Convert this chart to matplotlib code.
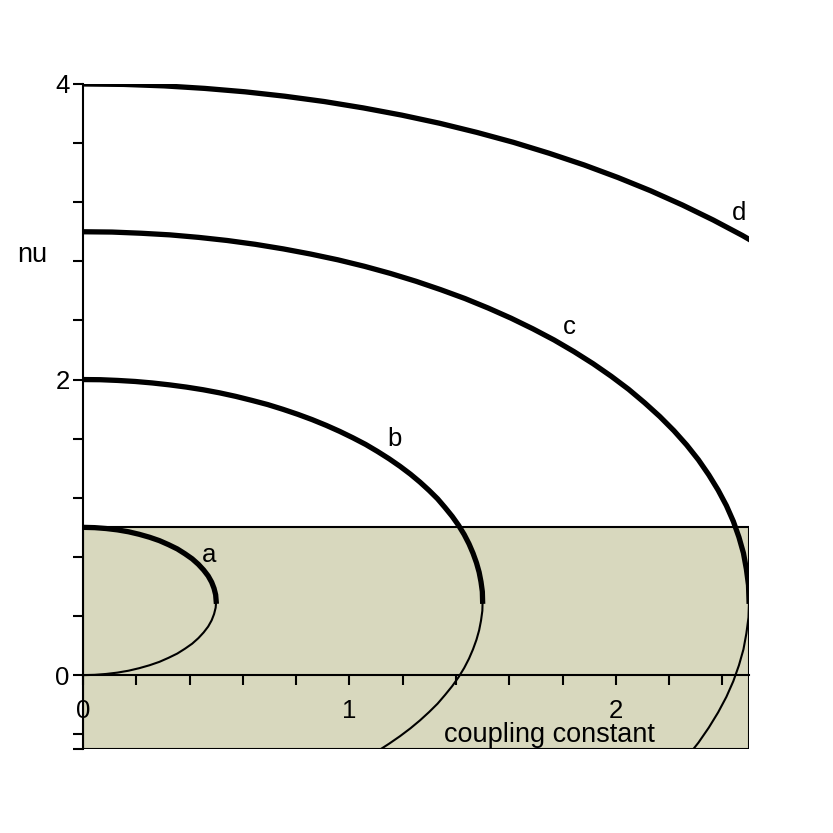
import matplotlib.pyplot as plt
from matplotlib.patches import Rectangle

# curve points (coupling constant, nu)
a_up_x = [0, 0.044, 0.087, 0.129, 0.171, 0.211, 0.25, 0.287, 0.321, 0.354,
          0.383, 0.410, 0.433, 0.453, 0.470, 0.483, 0.492, 0.498, 0.5]
a_up_nu = [1.0, 0.998, 0.992, 0.983, 0.970, 0.953, 0.933, 0.910, 0.883, 0.854,
           0.821, 0.787, 0.75, 0.711, 0.671, 0.629, 0.587, 0.544, 0.5]
a_lo_x = a_up_x[::-1]
a_lo_nu = [0.5, 0.456, 0.413, 0.371, 0.329, 0.289, 0.25, 0.213, 0.179, 0.146,
           0.117, 0.090, 0.067, 0.047, 0.030, 0.017, 0.008, 0.002, 0.0]

b_up_x = [0, 0.065, 0.131, 0.196, 0.260, 0.325, 0.388, 0.451, 0.513, 0.574,
          0.634, 0.693, 0.75, 0.806, 0.860, 0.913, 0.964, 1.013, 1.061, 1.106,
          1.149, 1.190, 1.229, 1.265, 1.299, 1.331, 1.359, 1.386, 1.410, 1.431,
          1.449, 1.464, 1.477, 1.487, 1.494, 1.499, 1.5]
b_up_nu = [2.0, 1.999, 1.994, 1.987, 1.977, 1.964, 1.949, 1.931, 1.910, 1.886,
           1.859, 1.831, 1.799, 1.765, 1.729, 1.690, 1.649, 1.606, 1.561, 1.513,
           1.464, 1.413, 1.360, 1.306, 1.25, 1.193, 1.134, 1.074, 1.013, 0.951,
           0.888, 0.825, 0.760, 0.696, 0.631, 0.565, 0.5]
b_lo_x = [1.5, 1.499, 1.494, 1.487, 1.477, 1.464, 1.449, 1.431, 1.410, 1.386,
          1.359, 1.331, 1.299, 1.265, 1.229, 1.190, 1.149, 1.118]
b_lo_nu = [0.5, 0.435, 0.369, 0.304, 0.240, 0.175, 0.112, 0.049, -0.013, -0.074,
           -0.134, -0.193, -0.25, -0.306, -0.360, -0.413, -0.464, -0.5]

c_up_x = [0, 0.109, 0.218, 0.326, 0.434, 0.541, 0.647, 0.752, 0.855, 0.957,
          1.057, 1.154, 1.25, 1.343, 1.434, 1.522, 1.607, 1.689, 1.768, 1.843,
          1.915, 1.983, 2.048, 2.108, 2.165, 2.218, 2.266, 2.310, 2.349, 2.384,
          2.415, 2.441, 2.462, 2.479, 2.490, 2.498, 2.5]
c_up_nu = [3.0, 2.998, 2.990, 2.979, 2.962, 2.941, 2.915, 2.884, 2.849, 2.810,
           2.766, 2.718, 2.665, 2.608, 2.548, 2.483, 2.415, 2.343, 2.268, 2.189,
           2.107, 2.022, 1.934, 1.843, 1.75, 1.654, 1.557, 1.457, 1.355, 1.252,
           1.147, 1.041, 0.934, 0.826, 0.718, 0.609, 0.5]
c_lo_x = [2.5, 2.498, 2.490, 2.479, 2.462, 2.441, 2.415, 2.384, 2.349, 2.310, 2.291]
c_lo_nu = [0.5, 0.391, 0.282, 0.174, 0.066, -0.041, -0.147, -0.252, -0.355, -0.457, -0.5]

d_x = [0, 0.153, 0.305, 0.457, 0.608, 0.758, 0.906, 1.052, 1.197, 1.339,
       1.479, 1.616, 1.75, 1.881, 2.008, 2.131, 2.250, 2.365, 2.475, 2.5]
d_nu = [4.0, 3.997, 3.987, 3.970, 3.947, 3.917, 3.881, 3.838, 3.789, 3.734,
        3.672, 3.605, 3.531, 3.452, 3.367, 3.277, 3.181, 3.080, 2.975, 2.949]

x_ticks = [0, 0.2, 0.4, 0.6, 0.8, 1.0, 1.2, 1.4, 1.6, 1.8, 2.0, 2.2, 2.4]
x_labels = ["0", "", "", "", "", "1", "", "", "", "", "2", "", ""]
y_ticks = [-0.4, 0, 0.4, 0.8, 1.2, 1.6, 2.0, 2.4, 2.8, 3.2, 3.6, 4.0]
y_labels = ["", "0", "", "", "", "", "2", "", "", "", "", "4"]

curve_labels = ["a", "b", "c", "d"]
label_pos = [(0.473, 0.81), (1.17, 1.60), (1.824, 2.355), (2.462, 3.13)]

plt.rcParams["font.family"] = ["Liberation Sans", "DejaVu Sans"]

fig = plt.figure(figsize=(8.33, 8.33), dpi=100)
ax = fig.add_axes([0.0996, 0.1008, 0.7996, 0.7984])
ax.set_xlim(0, 2.5)
ax.set_ylim(-0.5, 4.0)

# shaded band
ax.add_patch(Rectangle((0, -0.5), 2.5, 1.5, facecolor="#d8d8be",
                       edgecolor="black", linewidth=1.5, zorder=1))

thick = dict(color="black", lw=3.8, zorder=3, solid_joinstyle="round")
thin = dict(color="black", lw=1.5, zorder=3, solid_joinstyle="round")
ax.plot(a_up_x, a_up_nu, **thick)
ax.plot(a_lo_x, a_lo_nu, **thin)
ax.plot(b_up_x, b_up_nu, **thick)
ax.plot(b_lo_x, b_lo_nu, **thin)
ax.plot(c_up_x, c_up_nu, **thick)
ax.plot(c_lo_x, c_lo_nu, **thin)
ax.plot(d_x, d_nu, **thick)

for lab, (lx, ly) in zip(curve_labels, label_pos):
    ax.text(lx, ly, lab, fontsize=18.5, ha="center", va="center", zorder=4)

# axes drawn Maple style: x axis through nu = 0
for side in ["top", "right"]:
    ax.spines[side].set_visible(False)
ax.spines["bottom"].set_position(("data", 0))
ax.spines["left"].set_linewidth(1.5)
ax.spines["bottom"].set_linewidth(1.5)
ax.spines["bottom"].set_zorder(2)

ax.set_xticks(x_ticks)
ax.set_xticklabels(x_labels)
ax.set_yticks(y_ticks)
ax.set_yticklabels(y_labels)
ax.set_yticks([-0.5], minor=True)
ax.tick_params(axis="x", direction="out", length=7.5, width=1.5, pad=10, labelsize=18.5)
ax.tick_params(axis="y", direction="out", length=7.5, width=1.5, pad=2, labelsize=18.5)
ax.tick_params(axis="y", which="minor", direction="out", length=7.5, width=1.5)

ax.text(-0.19, 2.84, "nu", fontsize=19.5, ha="center", va="center")
ax.text(1.75, -0.405, "coupling constant", fontsize=19.5, ha="center", va="center")

fig.savefig("out.png", dpi=100)
